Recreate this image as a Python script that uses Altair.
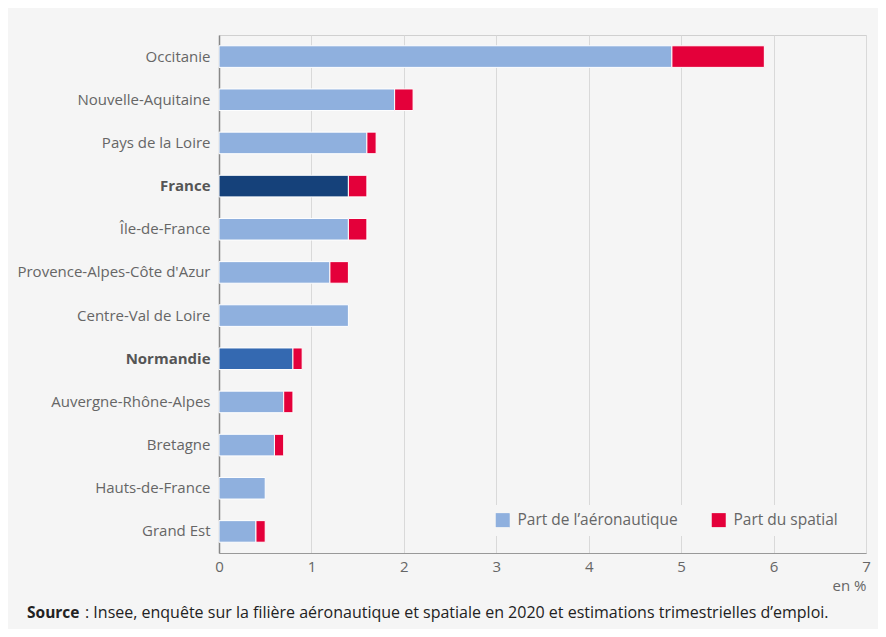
import altair as alt
import pandas as pd

regions = ["Occitanie", "Nouvelle-Aquitaine", "Pays de la Loire", "France",
           "Île-de-France", "Provence-Alpes-Côte d'Azur", "Centre-Val de Loire",
           "Normandie", "Auvergne-Rhône-Alpes", "Bretagne", "Hauts-de-France", "Grand Est"]
aero = [4.9, 1.9, 1.6, 1.4, 1.4, 1.2, 1.4, 0.8, 0.7, 0.6, 0.5, 0.4]
spatial = [1.0, 0.2, 0.1, 0.2, 0.2, 0.2, 0.0, 0.1, 0.1, 0.1, 0.0, 0.1]
series_labels = ["Part de l’aéronautique", "Part du spatial"]
series_colors = ["#8fb0de", "#e4003a"]
highlight_regions = ["France", "Normandie"]
highlight_colors = ["#15417a", "#3469b1"]
x_ticks = [0, 1, 2, 3, 4, 5, 6, 7]
source_bold = "Source"
source_text = ": Insee, enquête sur la filière aéronautique et spatiale en 2020 et estimations trimestrielles d’emploi."

rows = []
for r, a, s in zip(regions, aero, spatial):
    for lab, v, o in zip(series_labels, [a, s], [0, 1]):
        cat = r if (o == 0 and r in highlight_regions) else lab
        rows.append({"region": r, "serie": lab, "cat": cat, "value": v, "ord": o})
df = pd.DataFrame(rows)

bars = (
    alt.Chart(df)
    .transform_filter("datum.value > 0")
    .mark_bar(stroke="white", strokeWidth=1)
    .encode(
        x=alt.X(
            "value:Q", stack="zero",
            scale=alt.Scale(domain=[0, 7], nice=False),
            axis=alt.Axis(
                values=x_ticks, grid=True, gridColor="#d9d9d9", domainColor="#999",
                ticks=False, labelFontSize=15, labelColor="#666", labelPadding=6,
                labelFlush=False,
                title="en %", titleAnchor="end", titleFontSize=15,
                titleFontWeight="normal", titleColor="#666", titlePadding=4,
            ),
        ),
        y=alt.Y(
            "region:N", sort=regions,
            scale=alt.Scale(paddingInner=0.5, paddingOuter=0.25),
            axis=alt.Axis(
                title=None, ticks=False, domainColor="#888", domainWidth=1.5,
                labelFontSize=15, labelPadding=9, labelLimit=300,
                labelColor={"condition": {"test": "datum.value == 'France' || datum.value == 'Normandie'", "value": "#555"}, "value": "#666"},
                labelFontWeight={"condition": {"test": "datum.value == 'France' || datum.value == 'Normandie'", "value": "bold"}, "value": "normal"},
            ),
        ),
        color=alt.Color(
            "cat:N",
            scale=alt.Scale(domain=series_labels + highlight_regions,
                            range=series_colors + highlight_colors),
            legend=alt.Legend(
                values=series_labels,
                title=None, orient="none", legendX=269, legendY=470,
                direction="horizontal", symbolType="square", symbolSize=196,
                symbolStrokeWidth=0, labelFontSize=15.5, labelColor="#666",
                labelOffset=7, columnPadding=33, padding=7,
                fillColor="#f5f5f5", labelLimit=300, symbolOpacity=1,
            ),
        ),
        order=alt.Order("ord:Q"),
    )
)

src = pd.DataFrame({"b": [source_bold], "t": [source_text]})
t1 = alt.Chart(src).mark_text(align="left", baseline="middle", fontSize=15.5,
                              fontWeight="bold", color="#222").encode(
    text="b:N", x=alt.value(-192), y=alt.value(578))
t2 = alt.Chart(src).mark_text(align="left", baseline="middle", fontSize=16,
                              color="#222").encode(
    text="t:N", x=alt.value(-134), y=alt.value(578))

chart = (
    alt.layer(bars, t1, t2)
    .properties(
        width=647, height=518,
        padding={"left": 211, "top": 27, "right": 12, "bottom": 76},
        autosize=alt.AutoSizeParams(type="none"),
        background="#f5f5f5",
    )
    .configure(font="Open Sans")
    .configure_view(stroke="#d0d0d0")
)

chart.save("out.html", embed_options={"renderer": "svg", "actions": False})
